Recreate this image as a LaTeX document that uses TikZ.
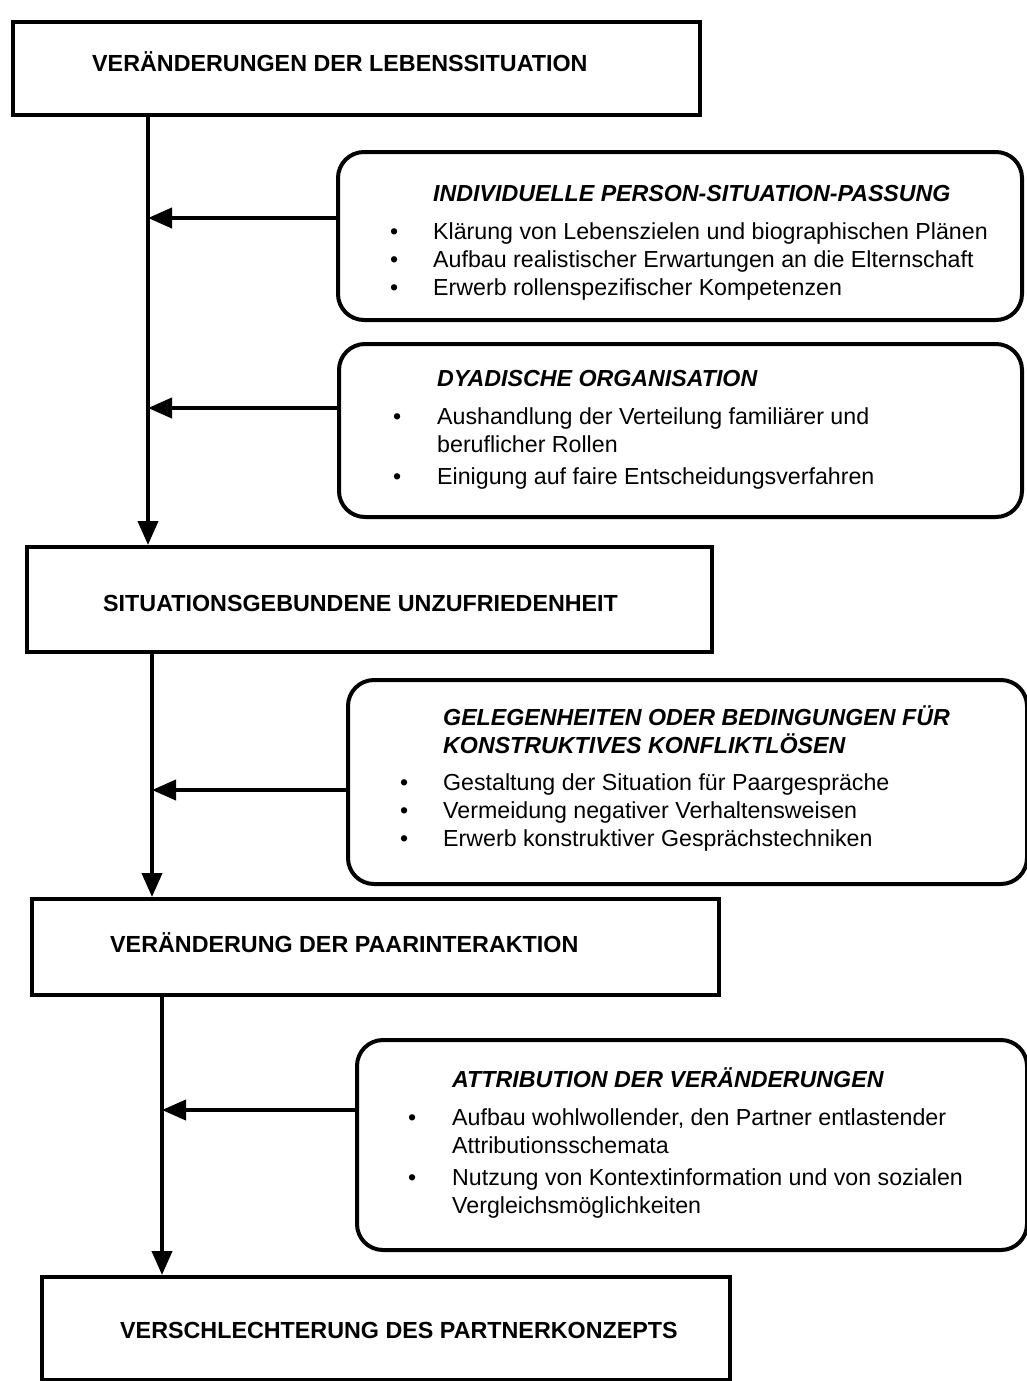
\documentclass[tikz,border=0pt]{standalone}
\usepackage{fontspec}
\setmainfont{Liberation Sans}
\usetikzlibrary{arrows.meta}
\begin{document}
\begin{tikzpicture}[x=1pt,y=-1pt,
  mainbox/.style={draw, line width=4pt, anchor=north west, inner sep=0pt},
  roundbox/.style={draw, line width=4pt, rounded corners=26pt, anchor=north west, inner sep=0pt},
  maintext/.style={anchor=west, inner sep=0pt, font=\fontsize{23.3}{26}\selectfont\bfseries},
  content/.style={anchor=north west, inner sep=0pt, align=left, font=\fontsize{23.2}{28}\selectfont},
  arr/.style={line width=4pt, -{Triangle[length=24pt,width=20pt]}}
]
\useasboundingbox (0,0) rectangle (1027,1381);

% main boxes
\node[mainbox, minimum width=687pt, minimum height=93pt] (b1) at (11,20) {};
\node[maintext] (t1) at (92,62) {VERÄNDERUNGEN DER LEBENSSITUATION};
\node[mainbox, minimum width=685pt, minimum height=105pt] (b2) at (25,545) {};
\node[maintext] (t2) at (103,603) {SITUATIONSGEBUNDENE UNZUFRIEDENHEIT};
\node[mainbox, minimum width=687pt, minimum height=96pt] (b3) at (30,897) {};
\node[maintext] (t3) at (110,943) {VERÄNDERUNG DER PAARINTERAKTION};
\node[mainbox, minimum width=688pt, minimum height=103pt] (b4) at (40,1275) {};
\node[maintext] (t4) at (120,1330) {VERSCHLECHTERUNG DES PARTNERKONZEPTS};

% rounded boxes
\node[roundbox, minimum width=684pt, minimum height=168pt] (A) at (336,150) {};
\node[content] (cA) at (390,182) {\begin{tabular}{@{}p{43pt}@{}l@{}}
 & \bfseries\itshape INDIVIDUELLE PERSON-SITUATION-PASSUNG\\[10pt]
\textbullet & Klärung von Lebenszielen und biographischen Plänen\\
\textbullet & Aufbau realistischer Erwartungen an die Elternschaft\\
\textbullet & Erwerb rollenspezifischer Kompetenzen
\end{tabular}};

\node[roundbox, minimum width=683pt, minimum height=173pt] (B) at (337,342) {};
\node[content] (cB) at (393,367) {\begin{tabular}{@{}p{44pt}@{}l@{}}
 & \bfseries\itshape DYADISCHE ORGANISATION\\[10pt]
\textbullet & Aushandlung der Verteilung familiärer und\\
 & beruflicher Rollen\\[4pt]
\textbullet & Einigung auf faire Entscheidungsverfahren
\end{tabular}};

\node[roundbox, minimum width=679pt, minimum height=204pt] (C) at (346,678) {};
\node[content] (cC) at (400,705) {\begin{tabular}{@{}p{43pt}@{}l@{}}
 & \bfseries\itshape GELEGENHEITEN ODER BEDINGUNGEN FÜR\\
 & \bfseries\itshape KONSTRUKTIVES KONFLIKTLÖSEN\\[9pt]
\textbullet & Gestaltung der Situation für Paargespräche\\
\textbullet & Vermeidung negativer Verhaltensweisen\\
\textbullet & Erwerb konstruktiver Gesprächstechniken
\end{tabular}};

\node[roundbox, minimum width=670pt, minimum height=210pt] (D) at (355,1038) {};
\node[content] (cD) at (408,1067) {\begin{tabular}{@{}p{44pt}@{}l@{}}
 & \bfseries\itshape ATTRIBUTION DER VERÄNDERUNGEN\\[10pt]
\textbullet & Aufbau wohlwollender, den Partner entlastender\\
 & Attributionsschemata\\[4pt]
\textbullet & Nutzung von Kontextinformation und von sozialen\\
 & Vergleichsmöglichkeiten
\end{tabular}};

% spine coordinates
\coordinate (l1) at (148,0);
\coordinate (l2) at (152,0);
\coordinate (l3) at (162,0);
\coordinate (ta) at (148,218);
\coordinate (tb) at (148,408);
\coordinate (tc) at (152,790);
\coordinate (td) at (162,1110);

% vertical connectors
\draw[arr] (b1.south -| l1) -- (b2.north -| l1);
\draw[arr] (b2.south -| l2) -- (b3.north -| l2);
\draw[arr] (b3.south -| l3) -- (b4.north -| l3);

% horizontal connectors
\draw[arr] (A.west |- ta) -- (ta);
\draw[arr] (B.west |- tb) -- (tb);
\draw[arr] (C.west |- tc) -- (tc);
\draw[arr] (D.west |- td) -- (td);
\end{tikzpicture}
\end{document}
